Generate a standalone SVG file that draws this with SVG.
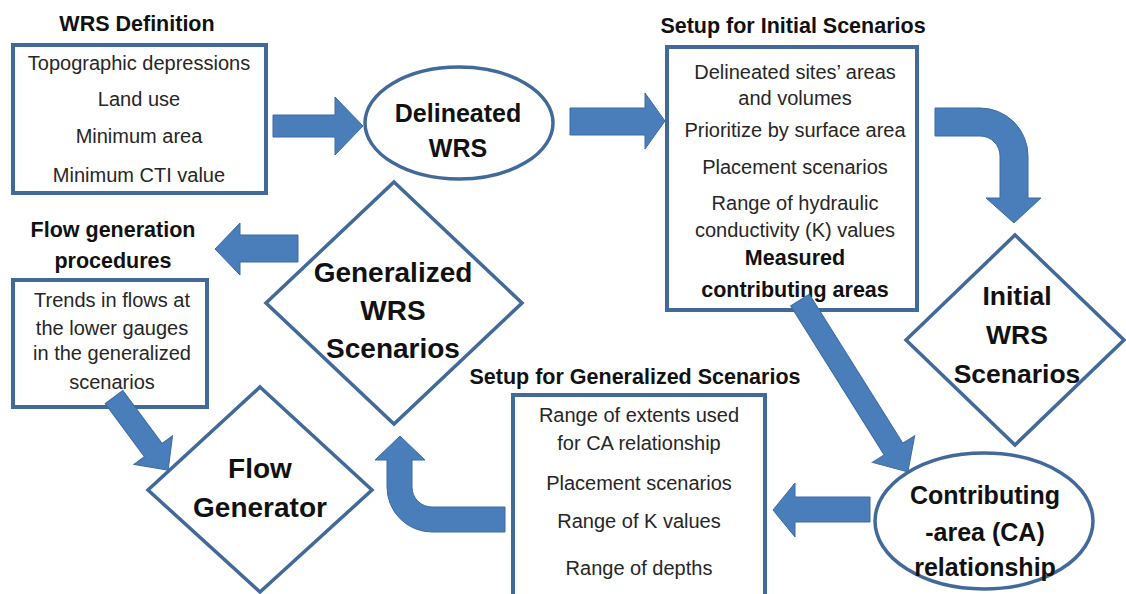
<svg xmlns="http://www.w3.org/2000/svg" width="1126" height="594" viewBox="0 0 1126 594">
<style>
.box{fill:#fff;stroke:#41699a;stroke-width:4}
.shp{fill:#fff;stroke:#41699a;stroke-width:3.5}
.arr{fill:#4a7ebb;stroke:#3d6ba3;stroke-width:1}
text{font-family:"Liberation Sans",Arial,sans-serif;text-anchor:middle}
.t{font-size:20px;fill:#262626}
.h{font-size:21.5px;font-weight:bold;fill:#111}
.n{font-weight:bold;fill:#111}
</style>
<rect width="1126" height="594" fill="#fff"/>

<g id="wrs-definition">
<text class="h" x="137" y="31">WRS Definition</text>
<rect class="box" x="13" y="45" width="253" height="148"/>
<text class="t" x="139" y="70">Topographic depressions</text>
<text class="t" x="139" y="106">Land use</text>
<text class="t" x="139" y="143">Minimum area</text>
<text class="t" x="139" y="182">Minimum CTI value</text>
</g>

<g id="delineated-wrs">
<ellipse class="shp" cx="459" cy="123" rx="94" ry="56"/>
<text class="n" x="458" y="122" font-size="25">Delineated</text>
<text class="n" x="458" y="157" font-size="25">WRS</text>
</g>

<g id="setup-initial">
<text class="h" x="793" y="33">Setup for Initial Scenarios</text>
<rect class="box" x="667" y="47" width="250" height="263"/>
<text class="t" x="795" y="79">Delineated sites’ areas</text>
<text class="t" x="795" y="105">and volumes</text>
<text class="t" x="795" y="137">Prioritize by surface area</text>
<text class="t" x="795" y="174">Placement scenarios</text>
<text class="t" x="795" y="210">Range of hydraulic</text>
<text class="t" x="795" y="237">conductivity (K) values</text>
<text class="h" x="795" y="265">Measured</text>
<text class="h" x="795" y="297">contributing  areas</text>
</g>

<g id="initial-wrs-scenarios">
<polygon class="shp" points="1015,235 1124,340 1015,445 906,340"/>
<text class="n" x="1017" y="305" font-size="26.5">Initial</text>
<text class="n" x="1017" y="344" font-size="26.5">WRS</text>
<text class="n" x="1017" y="383" font-size="26.5">Scenarios</text>
</g>

<g id="contributing-area">
<ellipse class="shp" cx="984" cy="521" rx="109" ry="68"/>
<text class="n" x="985" y="504" font-size="25">Contributing</text>
<text class="n" x="985" y="541" font-size="25">-area (CA)</text>
<text class="n" x="985" y="576" font-size="25">relationship</text>
</g>

<g id="setup-generalized">
<text class="h" x="635" y="384">Setup for Generalized Scenarios</text>
<rect class="box" x="513" y="395" width="252" height="215"/>
<text class="t" x="639" y="422">Range of extents used</text>
<text class="t" x="639" y="450">for CA relationship</text>
<text class="t" x="639" y="490">Placement scenarios</text>
<text class="t" x="639" y="528">Range of K values</text>
<text class="t" x="639" y="575">Range of depths</text>
</g>

<g id="generalized-wrs-scenarios">
<polygon class="shp" points="394,182 522,303 394,424 266,303"/>
<text class="n" x="393" y="282" font-size="28">Generalized</text>
<text class="n" x="393" y="320" font-size="28">WRS</text>
<text class="n" x="393" y="358" font-size="28">Scenarios</text>
</g>

<g id="flow-generation-procedures">
<text class="h" x="113" y="237">Flow generation</text>
<text class="h" x="113" y="268">procedures</text>
<rect class="box" x="13" y="280" width="194" height="127"/>
<text class="t" x="112" y="307">Trends in flows at</text>
<text class="t" x="112" y="335">the lower gauges</text>
<text class="t" x="112" y="360">in the generalized</text>
<text class="t" x="112" y="389">scenarios</text>
</g>

<g id="flow-generator">
<polygon class="shp" points="260,387 372,490 260,592 148,490"/>
<text class="n" x="260" y="478" font-size="28">Flow</text>
<text class="n" x="260" y="517" font-size="28">Generator</text>
</g>

<g id="connectors">
<polygon class="arr" points="273,115 335,115 335,97 363,126 335,155 335,137 273,137"/>
<polygon class="arr" points="570,108 645,108 645,93 665,121 645,149 645,135 570,135"/>
<path class="arr" d="M935,108 L980,108 A48,48 0 0 1 1028,156 L1028,198 L1041,198 L1014,223 L986,198 L1000,198 L1000,156 A20,20 0 0 0 980,136 L935,136 Z"/>
<polygon class="arr" transform="translate(800,300) rotate(57.9)" points="0,-11 176,-11 176,-25 203,0 176,25 176,11 0,11"/>
<polygon class="arr" points="870,497 795,497 795,483 773,510 795,537 795,522 870,522"/>
<path class="arr" d="M505,507 L432,507 A20,20 0 0 1 412,487 L412,460 L425,460 L400,436 L375,460 L387,460 L387,487 A45,45 0 0 0 432,532 L505,532 Z"/>
<polygon class="arr" points="298,235 240,235 240,223 215,249 240,275 240,262 298,262"/>
<polygon class="arr" transform="translate(114,397) rotate(53.5)" points="0,-11 66,-11 66,-24 91,0 66,24 66,11 0,11"/>
</g>
</svg>
